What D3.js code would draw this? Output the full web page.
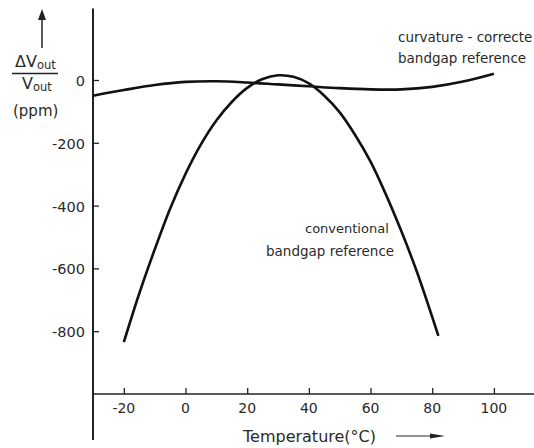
<!DOCTYPE html>
<html><head><meta charset="utf-8">
<script src="https://cdn.jsdelivr.net/npm/d3@7"></script>
<style>body{margin:0;background:#fff}svg{display:block}text{font-family:"DejaVu Sans",sans-serif;fill:#2a2a2a}</style>
</head><body><svg id="c" width="534" height="448"></svg>
<script>
const xTicks = [-20, 0, 20, 40, 60, 80, 100];
const yTicks = [0, -200, -400, -600, -800];
const corrT = [-30, -20, -10, 0, 10, 20, 30, 40, 50, 60, 70, 80, 90, 100];
const corrV = [-50, -32, -16, -6, -4, -8, -14, -20, -26, -30, -30, -22, -5, 20];
const convT = [-20, -15, -10, -5, 0, 5, 10, 15, 20, 25, 30, 35, 40, 45, 50, 55, 60, 65, 70, 75, 82];
const convV = [-835, -680, -540, -410, -299, -205, -129, -70, -25, 3, 15, 10, -11, -50, -103, -175, -260, -365, -482, -610, -815];

const svg = d3.select("#c");
const x = d3.scaleLinear().domain([-30, 113]).range([93, 534]);
const y = d3.scaleLinear().domain([0, -1000]).range([80, 394]);

// axes lines
svg.append("line").attr("x1", 93).attr("x2", 93).attr("y1", y(228)).attr("y2", 440).attr("stroke", "#222").attr("stroke-width", 2);
svg.append("line").attr("x1", 93).attr("x2", 534).attr("y1", y(-1000)).attr("y2", y(-1000)).attr("stroke", "#222").attr("stroke-width", 1.6);

const xa = svg.append("g").attr("transform", `translate(0,${y(-1000)})`)
  .call(d3.axisTop(x).tickValues(xTicks).tickSize(6).tickFormat(""));
xa.select(".domain").remove();
xa.selectAll("line").attr("stroke", "#222").attr("stroke-width", 1.3);
svg.append("g").selectAll("text").data(xTicks).join("text")
  .attr("x", d => x(d)).attr("y", 413).attr("text-anchor", "middle")
  .attr("font-size", 14).text(d => d < 0 ? "-" + Math.abs(d) : d);

const ya = svg.append("g").attr("transform", "translate(93,0)")
  .call(d3.axisRight(y).tickValues(yTicks).tickSize(6).tickFormat(""));
ya.select(".domain").remove();
ya.selectAll("line").attr("stroke", "#222").attr("stroke-width", 1.3);
svg.append("g").selectAll("text").data(yTicks).join("text")
  .attr("x", 85).attr("y", d => y(d) + 6).attr("text-anchor", "end")
  .attr("font-size", 14.5).text(d => d < 0 ? "-" + Math.abs(d) : d);

const line = d3.line().x(d => x(d[0])).y(d => y(d[1])).curve(d3.curveCatmullRom);
svg.append("path").datum(corrT.map((t, i) => [t, corrV[i]])).attr("d", line)
  .attr("fill", "none").attr("stroke", "#111").attr("stroke-width", 2.6);
svg.append("path").datum(convT.map((t, i) => [t, convV[i]])).attr("d", line)
  .attr("fill", "none").attr("stroke", "#111").attr("stroke-width", 2.6);

// annotations
const ann = svg.append("g").attr("font-size", 13.5);
ann.append("text").attr("x", 398).attr("y", 42).text("curvature - correcte");
ann.append("text").attr("x", 398).attr("y", 63).text("bandgap reference");
ann.append("text").attr("x", 305).attr("y", 233).attr("font-size", 13).text("conventional");
ann.append("text").attr("x", 266).attr("y", 256).text("bandgap reference");

// y label
svg.append("line").attr("x1", 42).attr("x2", 42).attr("y1", 48).attr("y2", 16).attr("stroke", "#222").attr("stroke-width", 1.5);
svg.append("path").attr("d", "M38,20 L42,9 L46,20 Z").attr("fill", "#222");
const yl = svg.append("g").attr("font-size", 16);
const t1 = yl.append("text").attr("x", 15).attr("y", 67);
t1.append("tspan").text("ΔV");
t1.append("tspan").attr("dy", 2).attr("font-size", 11.5).text("out");
svg.append("line").attr("x1", 12).attr("x2", 58).attr("y1", 73.5).attr("y2", 73.5).attr("stroke", "#222").attr("stroke-width", 1.3);
const t2 = yl.append("text").attr("x", 22).attr("y", 89);
t2.append("tspan").text("V");
t2.append("tspan").attr("dy", 2).attr("font-size", 11.5).text("out");
yl.append("text").attr("x", 13).attr("y", 116).attr("font-size", 15).text("(ppm)");

// x label
svg.append("text").attr("x", 243).attr("y", 442).attr("font-size", 16).text("Temperature(°C)");
svg.append("line").attr("x1", 396).attr("x2", 435).attr("y1", 436).attr("y2", 436).attr("stroke", "#222").attr("stroke-width", 1);
svg.append("path").attr("d", "M430,433.5 L445,436 L430,438.5 Z").attr("fill", "#222");
</script></body></html>
